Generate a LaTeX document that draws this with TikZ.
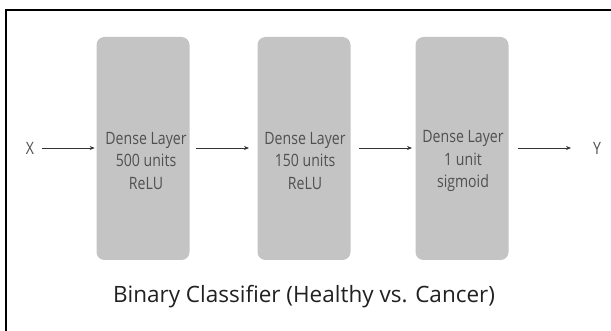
\documentclass[tikz,border=0pt]{standalone}
\usepackage{fontspec}
\setmainfont{Open Sans}
\usetikzlibrary{arrows.meta}
\definecolor{boxgray}{HTML}{C4C4C4}
\definecolor{textgray}{HTML}{505050}
\definecolor{linegray}{HTML}{333333}
\newcommand{\narrow}[1]{\scalebox{0.83}[1]{#1}}
\tikzset{
  layerbox/.style={fill=boxgray, rounded corners=8pt, minimum width=93pt, minimum height=223pt, inner sep=0pt},
  layertext/.style={text=textgray, font=\fontsize{17}{22.5}\selectfont, align=center, inner sep=0pt},
  flow/.style={draw=linegray, line width=0.8pt, -{Stealth[length=5pt,width=4pt]}},
  endlabel/.style={text=textgray, font=\fontsize{17}{20}\selectfont, inner sep=0pt}
}
\begin{document}
\begin{tikzpicture}[x=1pt,y=-1pt]
\useasboundingbox (0,0) rectangle (611,331);
\fill[white] (0,0) rectangle (611,331);
% frame edges
\draw[line width=2pt, black] (6,331) -- (6,10) -- (611,10);
% layers
\node[layerbox] (l1) at (143,148.5) {};
\node[layerbox] (l2) at (304,148.5) {};
\node[layerbox] (l3) at (462,148.5) {};
\node[layertext] (t1) at (146,161) {\narrow{Dense Layer}\\\narrow{500 units}\\\narrow{ReLU}};
\node[layertext] (t2) at (305,161) {\narrow{Dense Layer}\\\narrow{150 units}\\\narrow{ReLU}};
\node[layertext] (t3) at (463,161) {\narrow{Dense Layer}\\\narrow{1 unit}\\\narrow{sigmoid}};
% inputs and outputs
\node[endlabel] (x) at (30,148) {\narrow{X}};
\node[endlabel] (y) at (597,148) {\narrow{Y}};
% arrow end points
\coordinate (a0s) at (41.7,148);  \coordinate (a0e) at (94.7,148);
\coordinate (a1s) at (196,148);   \coordinate (a1e) at (249,148);
\coordinate (a2s) at (359,148);   \coordinate (a2e) at (412,148);
\coordinate (a3s) at (517.5,148); \coordinate (a3e) at (571,148);
\draw[flow] (a0s) -- (a0e);
\draw[flow] (a1s) -- (a1e);
\draw[flow] (a2s) -- (a2e);
\draw[flow] (a3s) -- (a3e);
\node[text=black!87, font=\fontsize{22.5}{27}\selectfont, inner sep=0pt] (title) at (304,297) {Binary Classifier (Healthy vs. Cancer)};
\end{tikzpicture}
\end{document}
